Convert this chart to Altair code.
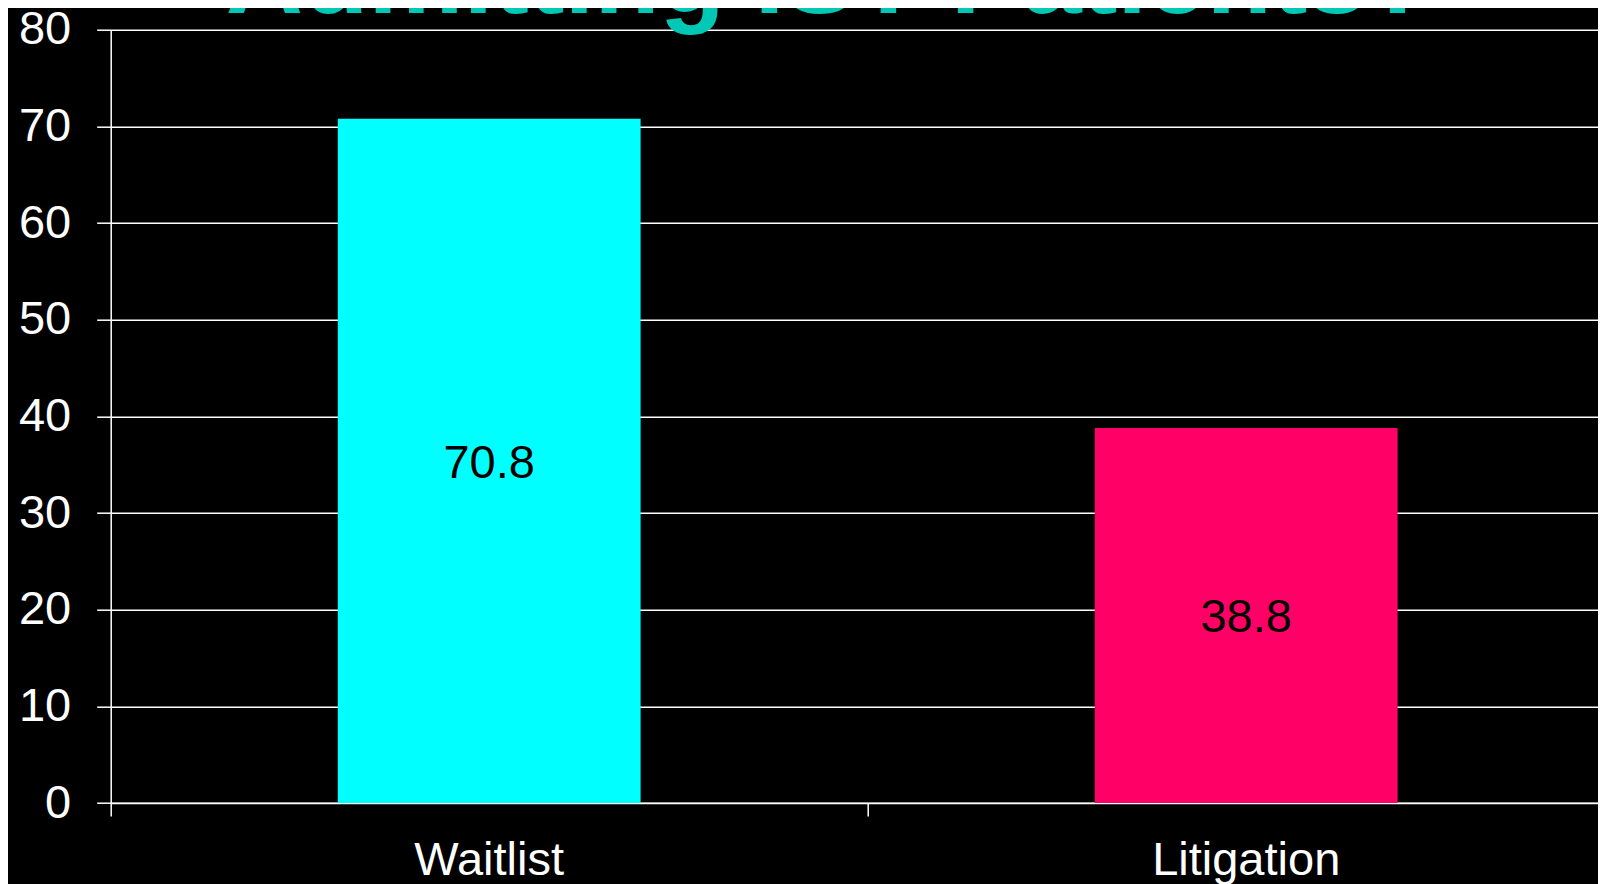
import altair as alt
import pandas as pd

# ---- data ----
categories = ["Waitlist", "Litigation"]
values = [70.8, 38.8]
bar_colors = ["#00FFFF", "#FF0066"]
y_ticks = [0, 10, 20, 30, 40, 50, 60, 70, 80]
title_text = "Admitting IST Patients?"

df = pd.DataFrame({"category": categories, "value": values, "color": bar_colors})
df["label"] = [f"{v:.1f}" for v in values]

FONT = "Liberation Sans"
PAD_L, PAD_T, PAD_B = 102.7, 21.7, 81
PLOT_W = 1590 - PAD_L
PLOT_H = 773.3

x_enc = alt.X(
    "category:N",
    sort=categories,
    title=None,
    scale=alt.Scale(range=[0, 1514], paddingInner=0.6, paddingOuter=0.3),
    axis=alt.Axis(
        labelAngle=0,
        labelFont=FONT,
        labelFontSize=47,
        labelColor="white",
        labelPadding=21,
        labelLimit=0,
        tickSize=13,
        tickColor="white",
        tickWidth=1.5,
        bandPosition=-0.75,
        domainColor="white",
        domainWidth=1.5,
        grid=False,
    ),
)

y_enc = alt.Y(
    "value:Q",
    title=None,
    scale=alt.Scale(domain=[0, 80], nice=False),
    axis=alt.Axis(
        values=y_ticks,
        labelFont=FONT,
        labelFontSize=47,
        labelColor="white",
        labelPadding=26,
        tickSize=14,
        tickColor="white",
        tickWidth=1.5,
        domainColor="white",
        domainWidth=1.5,
        gridColor="white",
        gridWidth=1.5,
        gridOpacity=1,
    ),
)

base = alt.Chart(df)

bars = base.mark_bar().encode(
    x=x_enc,
    y=y_enc,
    color=alt.Color("color:N", scale=None, legend=None),
)

labels = base.transform_calculate(mid="datum.value / 2").mark_text(
    font=FONT, fontSize=47, color="black", baseline="middle", align="center", dy=3
).encode(
    x=alt.X("category:N", sort=categories),
    y=alt.Y("mid:Q"),
    text="label:N",
)

chart = (
    alt.layer(bars, labels)
    .properties(
        width=PLOT_W,
        height=PLOT_H,
        autosize=alt.AutoSizeParams(type="none"),
        padding={"left": PAD_L, "top": PAD_T, "right": 0, "bottom": PAD_B},
        title=alt.TitleParams(
            title_text,
            font=FONT,
            fontSize=107,
            fontWeight="bold",
            color="#00C8B4",
            anchor="middle",
            frame="group",
            baseline="alphabetic",
            offset=0,
            dx=829 - 8 - PAD_L - PLOT_W / 2,
            dy=114,
        ),
    )
    .configure(background="#000000")
    .configure_view(stroke=None)
)

chart.save("out.html", embed_options={"renderer": "svg", "actions": False})
